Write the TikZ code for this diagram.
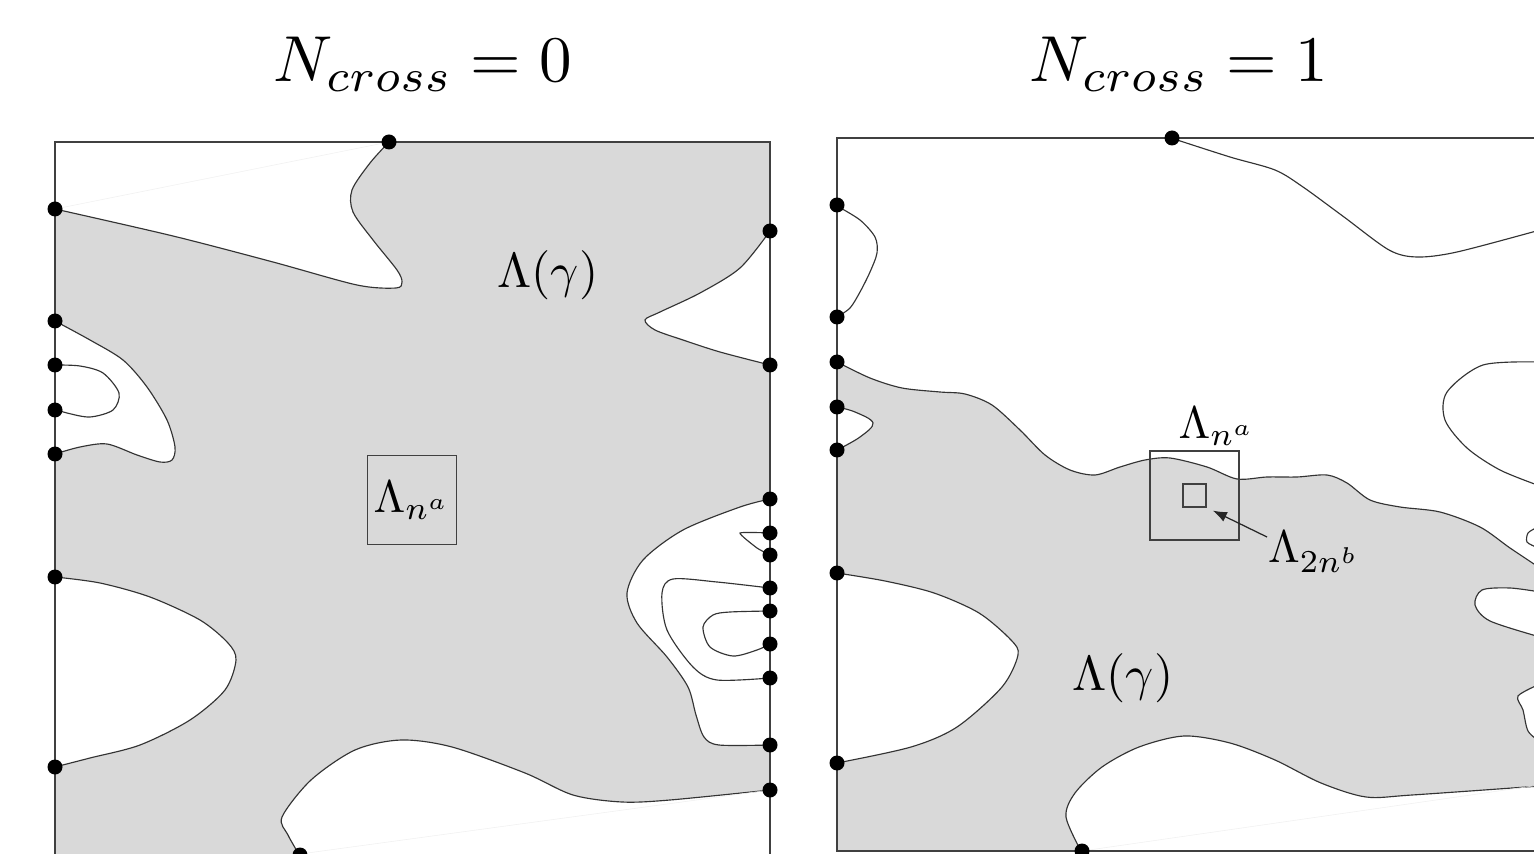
\documentclass[tikz,border=0pt]{standalone}
\usetikzlibrary{arrows.meta}
\begin{document}
\begin{tikzpicture}[x=0.02cm, y=-0.02cm, region/.style={fill=gray!30}, hole/.style={fill=white}, contour/.style={draw=black!80, line width=0.65pt}, frame/.style={draw=black!75, line width=0.8pt}, seam/.style={draw=gray!12, line width=0.3pt}, site/.style={fill=black}, window/.style={draw=black!75, line width=0.6pt, inner sep=0pt}, lbl/.style={inner sep=0pt}]
			\useasboundingbox (0,0) rectangle (1534,854);
			\node[lbl, scale=3.7] (title0) at (423,64) {$N_{cross}=0$};
			\node[lbl, scale=3.7] (title1) at (1179,64) {$N_{cross}=1$};
			\begin{scope}
			\clip (55,142) rectangle (770,860);
			\fill[region] (55,142) rectangle (770,860);
			\filldraw[hole, contour] plot[smooth] coordinates {(389,142) (370,163) (352,190) (353,212) (373,240) (397,270) (402,282) (396,288) (357,285) (273,262) (173,236) (55,209)} -- (55,142) -- cycle;
			\filldraw[hole, contour] plot[smooth] coordinates {(55,321) (90,340) (123,360) (147,387) (167,420) (175,447) (172,460) (160,462) (137,455) (107,444) (80,447) (55,454)} -- cycle;
			\draw[contour] plot[smooth] coordinates {(55,365) (80,366) (103,373) (119,393) (113,410) (90,417) (67,413) (55,409)};
			\filldraw[hole, contour] plot[smooth] coordinates {(55,577) (100,583) (150,597) (200,620) (228,643) (236,660) (225,690) (190,720) (140,745) (90,758) (55,767)} -- cycle;
			\filldraw[hole, contour] plot[smooth] coordinates {(300,856) (288,835) (282,817) (311,780) (355,750) (401,740) (452,747) (525,773) (573,795) (622,802) (670,800) (770,790)} -- (770,860) -- (300,860) -- cycle;
			\filldraw[hole, contour] plot[smooth] coordinates {(770,231) (740,268) (700,293) (660,312) (645,320) (655,330) (683,340) (720,352) (770,365)} -- cycle;
			\filldraw[hole, contour] plot[smooth] coordinates {(770,499) (740,507) (683,530) (643,560) (627,593) (637,623) (667,657) (688,687) (696,715) (704,737) (719,745) (770,745)} -- cycle;
			\draw[contour] plot[smooth, tension=0.3] coordinates {(770,533) (740,533) (757,548) (770,555)};
			\draw[contour] plot[smooth] coordinates {(770,588) (717,582) (673,579) (662,593) (667,630) (693,667) (717,680) (770,678)};
			\draw[contour] plot[smooth] coordinates {(770,611) (730,612) (713,615) (703,627) (710,647) (733,656) (757,650) (770,644)};
			\draw[seam] (55,209) -- (389,142);
			\draw[seam] (300,854) -- (770,790);
			\end{scope}
			\draw[frame] (55,860) -- (55,142) -- (770,142) -- (770,860);
			\fill[site] (389,142) circle[radius=7.5]; \fill[site] (55,209) circle[radius=7.5]; \fill[site] (55,321) circle[radius=7.5];
			\fill[site] (55,365) circle[radius=7.5]; \fill[site] (55,410) circle[radius=7.5]; \fill[site] (55,454) circle[radius=7.5];
			\fill[site] (55,577) circle[radius=7.5]; \fill[site] (55,767) circle[radius=7.5]; \fill[site] (300,855) circle[radius=7.5];
			\fill[site] (770,231) circle[radius=7.5]; \fill[site] (770,365) circle[radius=7.5]; \fill[site] (770,499) circle[radius=7.5];
			\fill[site] (770,533) circle[radius=7.5]; \fill[site] (770,555) circle[radius=7.5]; \fill[site] (770,588) circle[radius=7.5];
			\fill[site] (770,611) circle[radius=7.5]; \fill[site] (770,644) circle[radius=7.5]; \fill[site] (770,678) circle[radius=7.5];
			\fill[site] (770,745) circle[radius=7.5]; \fill[site] (770,790) circle[radius=7.5];
			\node[window, minimum size=1.78cm] (boxL) at (412,500) {};
			\node[lbl, scale=2.6] (labL) at (boxL.center) {$\Lambda_{n^a}$};
			\node[lbl, scale=2.8] (gammaL) at (548,275) {$\Lambda(\gamma)$};
			\begin{scope}
			\clip (837,138) rectangle (1534,851);
			\filldraw[region, contour] plot[smooth] coordinates {(837,362) (870,378) (902,388) (940,392) (965,394) (992,405) (1020,430) (1045,455) (1070,470) (1095,475) (1120,467) (1145,460) (1170,458) (1207,467) (1237,479) (1267,477) (1297,477) (1327,475) (1347,483) (1370,500) (1400,507) (1440,512) (1480,527) (1510,548) (1540,568)} -- (1540,851) -- (837,851) -- cycle;
			\filldraw[hole, contour] plot[smooth, tension=0.6] coordinates {(837,407) (855,412) (873,423) (860,437) (837,450)} -- cycle;
			\filldraw[hole, contour] plot[smooth] coordinates {(837,573) (885,581) (934,593) (979,613) (1011,640) (1018,655) (1002,687) (957,727) (911,747) (837,763)} -- cycle;
			\filldraw[hole, contour] plot[smooth] coordinates {(1082,853) (1066,817) (1075,793) (1102,767) (1139,747) (1184,736) (1230,743) (1275,760) (1321,783) (1366,797) (1412,795) (1540,786)} -- (1540,860) -- (1082,860) -- cycle;
			\filldraw[hole, contour] plot[smooth] coordinates {(1540,592) (1510,588) (1482,590) (1475,605) (1490,621) (1540,637)} -- cycle;
			\filldraw[hole, contour] plot[smooth] coordinates {(1540,684) (1518,696) (1523,710) (1528,731) (1540,742)} -- cycle;
			\draw[contour] plot[smooth] coordinates {(1171,138) (1230,157) (1275,170) (1303,187) (1344,217) (1389,250) (1417,257) (1457,252) (1540,230)};
			\draw[contour] plot[smooth] coordinates {(837,206) (860,220) (875,237) (877,253) (870,272) (860,292) (850,308) (837,317)};
			\draw[contour] plot[smooth] coordinates {(1540,362) (1483,365) (1447,392) (1445,420) (1467,448) (1500,470) (1540,486)};
			\draw[contour] plot[smooth] coordinates {(1536,528) (1528,533) (1527,542) (1536,547)};
			\draw[seam] (1082,851) -- (1540,785);
			\end{scope}
			\draw[frame] (1540,138) -- (837,138) -- (837,851) -- (1540,851);
			\fill[site] (1172,138) circle[radius=7.5]; \fill[site] (837,205) circle[radius=7.5]; \fill[site] (837,317) circle[radius=7.5];
			\fill[site] (837,362) circle[radius=7.5]; \fill[site] (837,407) circle[radius=7.5]; \fill[site] (837,450) circle[radius=7.5];
			\fill[site] (837,573) circle[radius=7.5]; \fill[site] (837,763) circle[radius=7.5]; \fill[site] (1082,851) circle[radius=7.5];
			\node[window, minimum size=1.78cm] (boxR) at (1194.5,495.5) {};
			\node[lbl, scale=2.6] (labR) at (1217,426) {$\Lambda_{n^a}$};
			\node[window, minimum size=0.46cm] (sq) at (1194.5,495.5) {};
			\node[lbl, scale=2.6] (lab2) at (1314,552) {$\Lambda_{2n^b}$};
			\coordinate (tail) at (1267,537);
			\draw[black!85, line width=0.7pt, -{Latex[length=8pt, width=6pt]}, shorten >=4pt] (tail) -- (sq.south east);
			\node[lbl, scale=2.8] (gammaR) at (1123,678) {$\Lambda(\gamma)$};
			\end{tikzpicture}
\end{document}
